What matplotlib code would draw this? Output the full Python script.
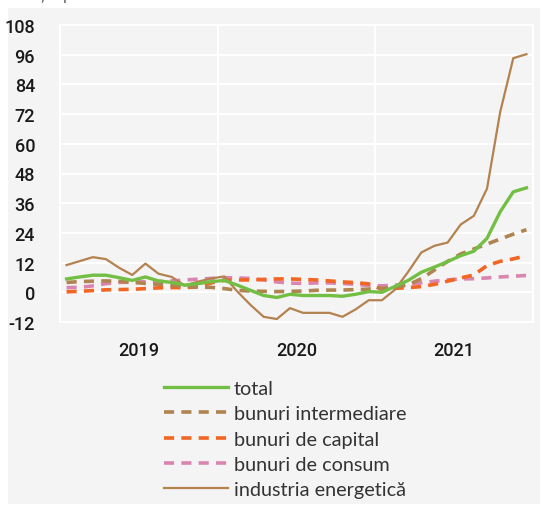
import matplotlib.pyplot as plt
import matplotlib.patches as mpatches
import numpy as np

plt.rcParams['font.family'] = ['Roboto', 'DejaVu Sans']
plt.rcParams['axes.unicode_minus'] = False

# monthly data, Jan 2019 - Dec 2021 (annual % change)
years = ['2019', '2020', '2021']
total = [5.4, 6.2, 6.9, 6.9, 5.9, 4.8, 6.2, 4.6, 4.0, 2.9, 3.5, 4.3,
         4.8, 2.9, 0.8, -1.3, -2.1, -0.8, -1.3, -1.3, -1.3, -1.6, -0.8, 0.3,
         0.0, 2.4, 4.8, 8.1, 10.2, 12.4, 14.8, 16.6, 21.8, 32.5, 40.6, 42.2]
intermediare = [4.0, 4.3, 4.5, 4.6, 4.4, 4.0, 3.6, 3.2, 2.8, 2.4, 2.1, 2.0,
                1.5, 0.8, 0.5, 0.4, 0.3, 0.4, 0.5, 0.8, 0.9, 0.9, 1.1, 1.3,
                1.6, 2.0, 3.0, 5.5, 9.0, 12.5, 15.5, 17.5, 19.5, 21.5, 23.5, 25.3]
capital = [0.2, 0.4, 0.7, 1.0, 1.1, 1.2, 1.5, 1.8, 1.9, 1.9, 2.2, 3.8,
           4.8, 5.0, 5.0, 5.2, 5.4, 5.4, 5.2, 5.0, 4.6, 4.2, 3.9, 3.4,
           1.2, 1.6, 1.9, 2.3, 3.2, 4.5, 5.8, 7.0, 10.8, 12.5, 13.5, 14.8]
consum = [1.9, 2.0, 2.6, 3.5, 4.0, 4.1, 4.3, 4.4, 4.6, 5.0, 5.3, 5.6,
          5.9, 5.8, 5.6, 5.0, 4.2, 3.7, 3.6, 3.8, 3.8, 3.6, 3.2, 2.8,
          2.6, 2.9, 3.2, 3.8, 4.5, 5.0, 5.4, 5.5, 5.8, 6.2, 6.5, 6.8]
energie = [11.0, 12.6, 14.2, 13.4, 9.9, 7.0, 11.6, 7.5, 6.2, 2.7, 4.3, 5.6,
           6.4, 0.3, -5.1, -9.9, -10.8, -6.4, -8.3, -8.3, -8.3, -9.9, -6.9, -3.2,
           -3.2, 1.1, 8.3, 16.1, 18.8, 20.1, 27.4, 30.9, 41.9, 72.8, 94.6, 96.2]
yticks = list(range(-12, 109, 12))

bg = '#f4f4f4'
fig = plt.figure(figsize=(5.42, 5.10), dpi=100)
panel = mpatches.Rectangle((8 / 542, 5 / 510), 532 / 542, 496 / 510,
                           transform=fig.transFigure, facecolor=bg,
                           edgecolor='none', zorder=-10)
fig.add_artist(panel)
fig.text(0.0, 1.009, 'Variație procentuală anuală', fontsize=12, color='#555555',
         ha='left', va='center', family='Open Sans')

ax = fig.add_axes([60 / 542, 1 - 323 / 510, 473 / 542, 297 / 510])
ax.set_zorder(1)
ax.set_facecolor(bg)
x = np.arange(len(total))

ax.plot(x, consum, color='#d985b0', lw=2.6, dashes=(2.8, 2.0), label='bunuri de consum', zorder=3)
ax.plot(x, capital, color='#f26522', lw=2.6, dashes=(2.8, 2.0), label='bunuri de capital', zorder=3)
ax.plot(x, intermediare, color='#b08450', lw=2.6, dashes=(2.8, 2.0), label='bunuri intermediare', zorder=3)
ax.plot(x, energie, color='#b3824f', lw=1.6, label='industria energetică', zorder=4)
ax.plot(x, total, color='#72bf44', lw=2.4, label='total', zorder=5)

ax.set_xlim(-0.5, 35.5)
ax.set_ylim(-12, 108)
ax.set_yticks(yticks)
ax.set_xticks([11.5, 23.5])
ax.set_xticks([5.5, 17.5, 29.5], minor=True)
ax.set_xticklabels([], minor=False)
ax.set_xticklabels(years, minor=True)
ax.tick_params(axis='both', which='both', length=0, labelcolor='#1a1a1a')
ax.tick_params(axis='y', pad=18, labelsize=13)
ax.tick_params(axis='x', which='minor', pad=14, labelsize=13)
for lab in ax.get_yticklabels() + ax.get_xticklabels(minor=True):
    lab.set_fontweight('medium')
ax.grid(True, which='major', color='white', lw=1.5)
for s in ax.spines.values():
    s.set_color('white')
    s.set_linewidth(1.5)
ax.set_axisbelow(True)

h, l = ax.get_legend_handles_labels()
order = [4, 2, 1, 0, 3]
fig.legend([h[i] for i in order], [l[i] for i in order], loc='upper left',
           bbox_to_anchor=(146 / 542, 1 - 363 / 510), frameon=False,
           handlelength=3.25, labelspacing=0.42, handletextpad=0.28,
           prop={'family': 'Lato', 'size': 14.3}, labelcolor='#333333')

fig.savefig('out.png', dpi=100)
